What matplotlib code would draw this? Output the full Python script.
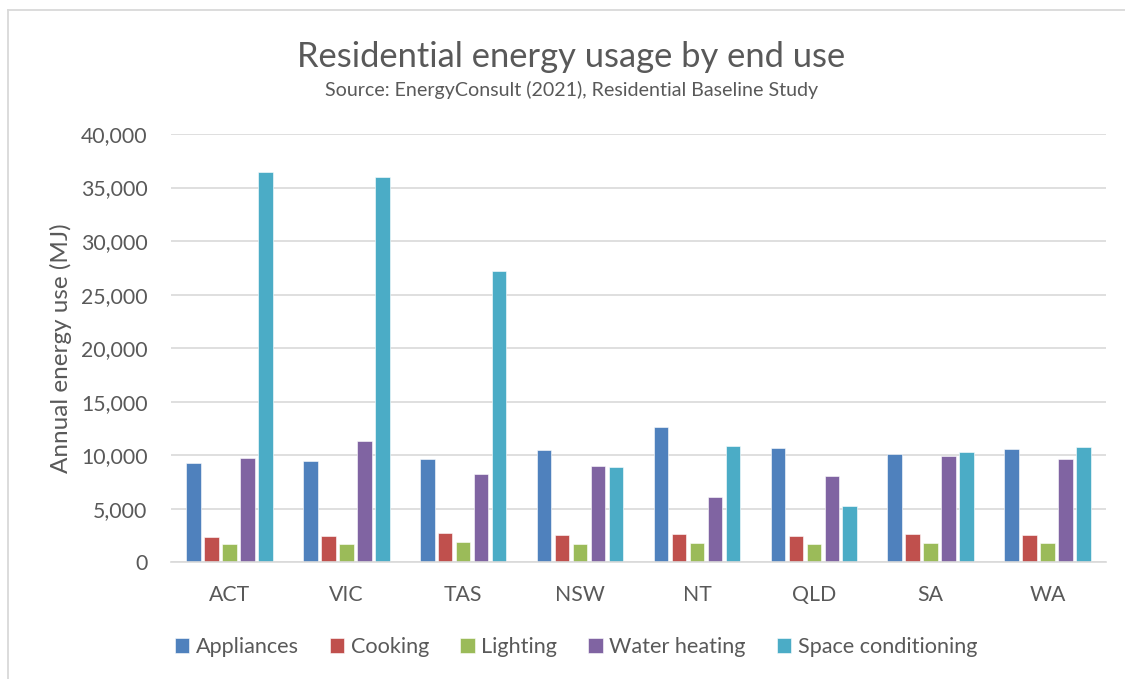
import matplotlib
matplotlib.use("Agg")
import matplotlib.pyplot as plt
from matplotlib.lines import Line2D
from matplotlib.ticker import StrMethodFormatter
import numpy as np

# Annual residential energy use per household (MJ) by state/territory
states = ["ACT", "VIC", "TAS", "NSW", "NT", "QLD", "SA", "WA"]
appliances = [9240, 9490, 9650, 10460, 12670, 10650, 10090, 10610]
cooking = [2390, 2460, 2710, 2520, 2610, 2490, 2680, 2580]
lighting = [1680, 1710, 1870, 1740, 1840, 1710, 1840, 1810]
water_heating = [9710, 11360, 8240, 9000, 6070, 8030, 9930, 9650]
space_conditioning = [36470, 35940, 27230, 8930, 10860, 5260, 10300, 10800]

series_names = ["Appliances", "Cooking", "Lighting", "Water heating", "Space conditioning"]
series_values = [appliances, cooking, lighting, water_heating, space_conditioning]
series_colors = ["#4F81BD", "#C0504D", "#9BBB59", "#8064A2", "#4BACC6"]

y_ticks = list(range(0, 40001, 5000))

TEXT = "#595959"
GRID = "#D9D9D9"

plt.rcParams["font.family"] = ["Lato", "DejaVu Sans"]

W, H = 1125, 679
fig = plt.figure(figsize=(W / 100, H / 100), dpi=100)
fig.patch.set_facecolor("white")


def fx(px):
    return px / W


def fy(py):
    return 1 - py / H


left, right, top, bottom = 171, 1106, 134, 562.3
ax = fig.add_axes([fx(left), fy(bottom), (right - left) / W, (bottom - top) / H])

n_series = len(series_names)
pitch = 1 / (n_series + 1.5)
x = np.arange(len(states))
for j, (name, vals, col) in enumerate(zip(series_names, series_values, series_colors)):
    offs = (j - (n_series - 1) / 2) * pitch
    ax.bar(x + offs, vals, width=pitch * 0.81, color=col, label=name,
           edgecolor="white", linewidth=0.4, zorder=3)

ax.set_xlim(-0.5, len(states) - 0.5)
ax.set_ylim(0, 40000)
ax.set_yticks(y_ticks)
ax.yaxis.set_major_formatter(StrMethodFormatter("{x:,.0f}"))
ax.set_xticks(x)
ax.set_xticklabels(states)

ax.grid(axis="y", color=GRID, linewidth=1.2, zorder=0)
ax.set_axisbelow(True)
for side in ["top", "right", "left"]:
    ax.spines[side].set_visible(False)
ax.spines["bottom"].set_color(GRID)
ax.spines["bottom"].set_linewidth(1.2)
ax.spines["bottom"].set_zorder(4)

ax.tick_params(axis="both", length=0, labelsize=15.3, colors=TEXT)
ax.tick_params(axis="y", pad=16.8)
ax.tick_params(axis="x", pad=16)

title = fig.text(fx(571), fy(67), "Residential energy usage by end use",
                 ha="center", va="baseline", fontsize=22, color=TEXT)
subtitle = fig.text(fx(572), fy(96),
                    "Source: EnergyConsult (2021), Residential Baseline Study",
                    ha="center", va="baseline", fontsize=12.5, color=TEXT)
ylabel = fig.text(fx(61), fy(348), "Annual energy use (MJ)", rotation=90,
                  ha="center", va="center", fontsize=16, color=TEXT)

# size the headings and axis title to their allotted lengths (pixels)
renderer = fig.canvas.get_renderer()
for txt, length, vertical in [(title, 546, False), (subtitle, 494, False), (ylabel, 250, True)]:
    ext = txt.get_window_extent(renderer)
    cur = ext.height if vertical else ext.width
    txt.set_fontsize(txt.get_fontsize() * length / cur)

leg = fig.legend(loc="center", bbox_to_anchor=(fx(576), fy(647)), ncol=5,
                 frameon=False, fontsize=15.6, handlelength=0.68, handleheight=0.68,
                 handletextpad=0.3, columnspacing=1.42, labelcolor=TEXT)

# chart area border
fig.add_artist(Line2D([fx(7.5), 1.0], [fy(9.5), fy(9.5)], color=GRID, linewidth=1.3,
                      transform=fig.transFigure))
fig.add_artist(Line2D([fx(7.5), fx(7.5)], [fy(9.5), 0], color=GRID, linewidth=1.3,
                      transform=fig.transFigure))

fig.savefig("out.png", dpi=100, facecolor="white")
